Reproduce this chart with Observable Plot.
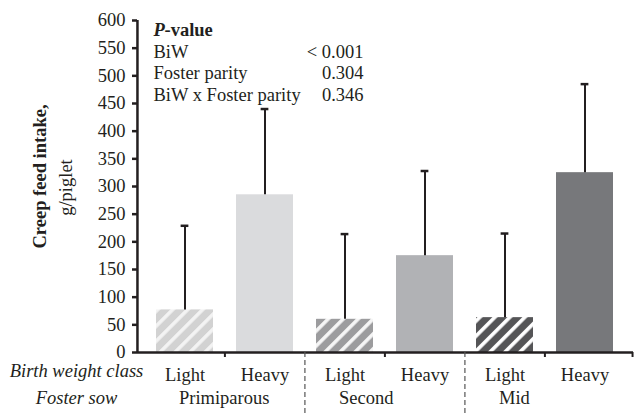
<!DOCTYPE html>
<html>
<head>
<meta charset="utf-8">
<script src="https://cdn.jsdelivr.net/npm/d3@7"></script>
<script src="https://cdn.jsdelivr.net/npm/@observablehq/plot@0.6"></script>
<style>
  html, body { margin: 0; padding: 0; background: #fff; }
  #chart svg, #chart svg g, #chart svg text, #chart svg tspan { font-family: "Liberation Serif", "Times New Roman", serif !important; }
  #chart svg g[aria-label^="y-axis"] line,
  #chart svg g[aria-label="y-axis tick"] path { stroke-width: 2.5px; }
</style>
</head>
<body>
<div id="chart"></div>
<script>
// ---- data ----
const birthWeightClass = ["Light", "Heavy", "Light", "Heavy", "Light", "Heavy"];
const fosterSow = ["Primiparous", "Primiparous", "Second", "Second", "Mid", "Mid"];
const intake = [77, 285, 60, 175, 63, 325];
const intakeSD = [152, 155, 154, 153, 152, 160];
const yTicks = [0, 50, 100, 150, 200, 250, 300, 350, 400, 450, 500, 550, 600];
const groups = ["Primiparous", "Second", "Mid"];
const pTerms = ["BiW", "Foster parity", "BiW x Foster parity"];
const pValues = ["< 0.001", "0.304", "0.346"];

// ---- style config ----
const ink = "#231f20";
const fillFor = {
  "Primiparous Light": "url(#hatch1)",
  "Primiparous Heavy": "#dadbdd",
  "Second Light": "url(#hatch2)",
  "Second Heavy": "#b1b2b5",
  "Mid Light": "url(#hatch3)",
  "Mid Heavy": "#77787b"
};
const hatches = [["hatch1", "#d2d2d2", "#f3f3f3"], ["hatch2", "#9c9c9e", "#f5f5f5"], ["hatch3", "#555557", "#ffffff"]];

const rows = birthWeightClass.map((c, i) => ({
  key: `${fosterSow[i]} ${c}`,
  cls: c,
  sow: fosterSow[i],
  value: intake[i],
  top: intake[i] + intakeSD[i]
}));
const keys = rows.map(d => d.key);

const W = 634, H = 414, mL = 137, mR = 1, mT = 20, mB = 62;
const pi = 0.286, po = 0.236;
const innerW = W - mL - mR;
const step = innerW / (keys.length - pi + 2 * po);
const bw = step * (1 - pi);
const endDx = innerW - (po * step + (keys.length - 1) * step + bw / 2);
const startDx = -(po * step + bw / 2);

const fs = "18.5px";
const serif = "Liberation Serif, serif";
const rowGap = 21.5;

const pMarks = [];
pTerms.forEach((t, i) => {
  pMarks.push(Plot.text([t], { frameAnchor: "top-left", dx: 16, dy: 24 + i * rowGap, textAnchor: "start", fontFamily: serif, fontSize: fs, fill: ink }));
  pMarks.push(Plot.text([pValues[i]], { frameAnchor: "top-left", dx: 226, dy: 24 + i * rowGap, textAnchor: "end", fontFamily: serif, fontSize: fs, fill: ink }));
});

const plot = Plot.plot({
  width: W, height: H,
  marginLeft: mL, marginRight: mR, marginTop: mT, marginBottom: mB,
  style: { fontFamily: serif, fontSize: fs, color: ink, background: "#fff" },
  x: { domain: keys, paddingInner: pi, paddingOuter: po, label: null,
       tickSize: 0, tickPadding: 15, tickFormat: k => k.split(" ")[1] },
  y: { domain: [0, 600], ticks: yTicks, tickSize: 5, tickPadding: 7, label: null },
  color: { type: "identity" },
  marks: [
    Plot.barY(rows, { x: "key", y: "value", fill: d => fillFor[d.key] }),
    // error bars
    Plot.ruleX(rows, { x: "key", y1: "value", y2: "top", stroke: ink, strokeWidth: 2 }),
    Plot.tickY(rows, { x: "key", y: "top", stroke: ink, strokeWidth: 2.5, insetLeft: (bw - 8) / 2, insetRight: (bw - 8) / 2 }),
    // axes lines
    Plot.ruleY([0], { stroke: ink, strokeWidth: 2.5 }),
    Plot.ruleX([keys[0]], { x: d => d, dx: startDx, y1: 0, y2: 600, stroke: ink, strokeWidth: 2.5 }),
    // category boundary ticks
    Plot.ruleX(rows.filter(d => d.cls === "Heavy"), { x: "key", dx: -step / 2, y1: 0, y2: -9, stroke: ink, strokeWidth: 2 }),
    Plot.ruleX([keys[keys.length - 1]], { x: d => d, dx: endDx, y1: 0, y2: -9, stroke: ink, strokeWidth: 2 }),
    // dashed separators between foster sow groups
    Plot.ruleX(rows.filter(d => d.cls === "Light" && d.sow !== groups[0]), { x: "key", dx: -step / 2, y1: 0, y2: -112, stroke: "#555", strokeWidth: 1.2, strokeDasharray: "5,3" }),
    // group labels
    Plot.text(rows.filter(d => d.cls === "Light"), { x: "key", text: "sow", frameAnchor: "bottom", dy: 51, dx: -6, textAnchor: "start", fontFamily: serif, fontSize: fs, fill: ink }),
    // row headers
    Plot.text(["Birth weight class"], { frameAnchor: "bottom-left", dx: -61, dy: 24, textAnchor: "middle", fontStyle: "italic", fontFamily: serif, fontSize: fs, fill: ink }),
    Plot.text(["Foster sow"], { frameAnchor: "bottom-left", dx: -61, dy: 51, textAnchor: "middle", fontStyle: "italic", fontFamily: serif, fontSize: fs, fill: ink }),
    // y axis title
    Plot.text(["Creep feed intake,"], { frameAnchor: "left", dx: -97, dy: -10, rotate: -90, textAnchor: "middle", fontWeight: "bold", fontFamily: serif, fontSize: fs, fill: ink }),
    Plot.text(["g/piglet"], { frameAnchor: "left", dx: -71, dy: 1, rotate: -90, textAnchor: "middle", fontFamily: serif, fontSize: fs, fill: ink }),
    // P-value box header
    Plot.text(["P"], { frameAnchor: "top-left", dx: 16, dy: 2, textAnchor: "start", fontWeight: "bold", fontStyle: "italic", fontFamily: serif, fontSize: fs, fill: ink }),
    Plot.text(["-value"], { frameAnchor: "top-left", dx: 27, dy: 2, textAnchor: "start", fontWeight: "bold", fontFamily: serif, fontSize: fs, fill: ink }),
    ...pMarks
  ]
});

// hatch patterns for the light-weight bars
const defs = d3.select(plot).insert("defs", ":first-child");
hatches.forEach(([id, c, w]) => {
  const p = defs.append("pattern").attr("id", id)
    .attr("patternUnits", "userSpaceOnUse")
    .attr("width", 10.6).attr("height", 10.6)
    .attr("patternTransform", "rotate(45)");
  p.append("rect").attr("width", 10.6).attr("height", 10.6).attr("fill", c);
  p.append("rect").attr("width", 3.6).attr("height", 10.6).attr("fill", w);
});

// make sure axis tick labels use the serif face too
d3.select(plot).selectAll("text").style("font-family", '"Liberation Serif", serif');

document.getElementById("chart").append(plot);
</script>
</body>
</html>
